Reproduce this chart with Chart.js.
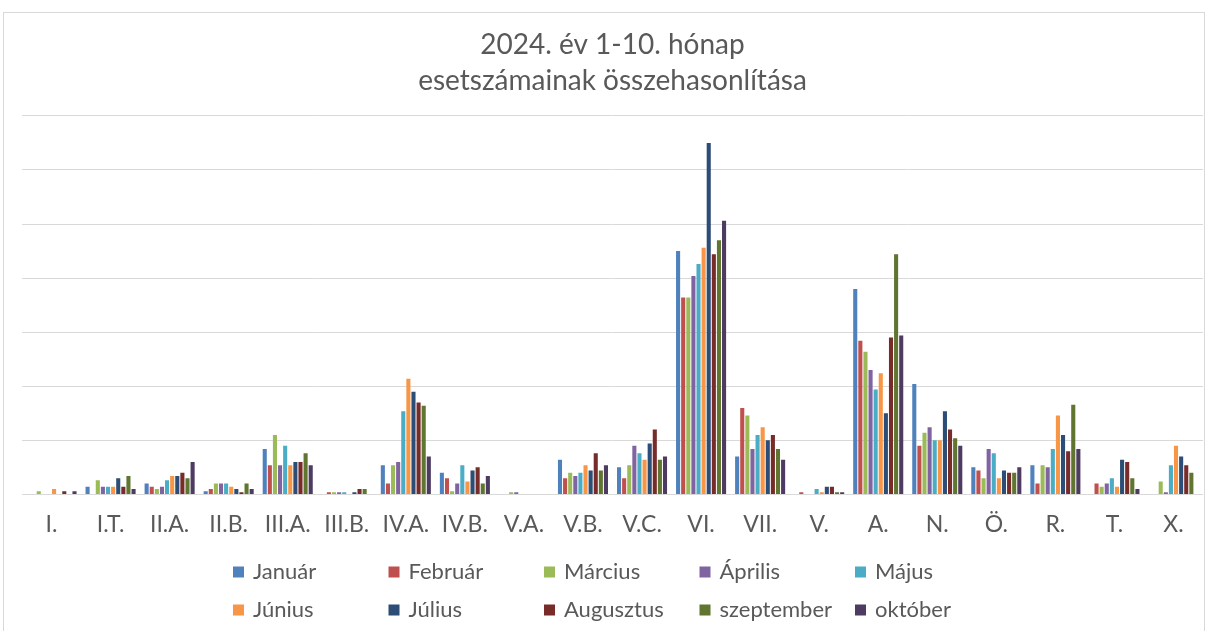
<!DOCTYPE html>
<html>
<head>
<meta charset="utf-8">
<script src="https://cdn.jsdelivr.net/npm/chart.js@4"></script>
<style>
  html, body { margin: 0; padding: 0; background: #fff; }
  #frame {
    position: absolute; left: 3px; top: 12px; width: 1202px; height: 640px;
    border: 1px solid #d9d9d9; box-sizing: border-box;
  }
  #wrap { position: absolute; left: 0; top: 0; width: 1207px; height: 631px; }
</style>
</head>
<body>
<div id="frame"></div>
<div id="wrap"><canvas id="chart" width="1207" height="631"></canvas></div>
<script>
// categories (x axis)
const categories = ['I.', 'I.T.', 'II.A.', 'II.B.', 'III.A.', 'III.B.', 'IV.A.', 'IV.B.', 'V.A.', 'V.B.',
                    'V.C.', 'VI.', 'VII.', 'V.', 'A.', 'N.', 'Ö.', 'R.', 'T.', 'X.'];

// monthly case counts
const januar     = [0, 7, 10, 3, 42, 0, 27, 20, 0, 32, 25, 225, 35, 0, 190, 102, 25, 27, 0, 0];
const februar    = [0, 0, 7, 5, 27, 2, 10, 15, 0, 15, 15, 182, 80, 2, 142, 45, 22, 10, 10, 0];
const marcius    = [3, 13, 5, 10, 55, 2, 27, 3, 2, 20, 27, 182, 73, 0, 132, 57, 15, 27, 7, 12];
const aprilis    = [0, 7, 7, 10, 27, 2, 30, 10, 2, 17, 45, 202, 42, 0, 115, 62, 42, 25, 10, 2];
const majus      = [0, 7, 13, 10, 45, 2, 77, 27, 0, 20, 38, 213, 55, 5, 97, 50, 38, 42, 15, 27];
const junius     = [5, 7, 17, 7, 27, 0, 107, 12, 0, 27, 32, 228, 62, 2, 112, 50, 15, 73, 7, 45];
const julius     = [0, 15, 17, 5, 30, 2, 95, 22, 0, 22, 47, 325, 50, 7, 75, 77, 22, 55, 32, 35];
const augusztus  = [3, 7, 20, 2, 30, 5, 85, 25, 0, 38, 60, 222, 55, 7, 145, 60, 20, 40, 30, 27];
const szeptember = [0, 17, 15, 10, 38, 5, 82, 10, 0, 22, 32, 235, 42, 2, 222, 52, 20, 83, 15, 20];
const oktober    = [3, 5, 30, 5, 27, 0, 35, 17, 0, 27, 35, 253, 32, 2, 147, 45, 25, 42, 5, 0];

const seriesLabels = ['Január', 'Február', 'Március', 'Április', 'Május',
                      'Június', 'Július', 'Augusztus', 'szeptember', 'október'];
const seriesData = [januar, februar, marcius, aprilis, majus, junius, julius, augusztus, szeptember, oktober];
const seriesColors = ['#4F81BD', '#C0504D', '#9BBB59', '#8064A2', '#4BACC6',
                      '#F79646', '#2C4D75', '#772C2A', '#5F7530', '#4D3B62'];

const FONT = 'Lato, "Open Sans", sans-serif';
const GREY = '#595959';

// legend drawn as a 5 column grid, like the Excel one
const gridLegend = {
  id: 'gridLegend',
  afterDraw(chart) {
    const ctx = chart.ctx;
    const cols = 5, colW = 155.5, x0 = 233, rowY = [572, 610], box = 11;
    ctx.save();
    ctx.font = '22px ' + FONT;
    ctx.textBaseline = 'middle';
    chart.data.datasets.forEach((ds, i) => {
      const x = x0 + (i % cols) * colW;
      const y = rowY[Math.floor(i / cols)];
      ctx.fillStyle = ds.backgroundColor;
      ctx.fillRect(x, y - box / 2, box, box);
      ctx.fillStyle = GREY;
      ctx.fillText(ds.label, x + box + 9, y);
    });
    ctx.restore();
  }
};

new Chart(document.getElementById('chart'), {
  type: 'bar',
  data: {
    labels: categories,
    datasets: seriesLabels.map((label, i) => ({
      label: label,
      data: seriesData[i],
      backgroundColor: seriesColors[i],
      borderWidth: 0,
      categoryPercentage: 0.865,
      barPercentage: 0.8,
    })),
  },
  options: {
    responsive: false,
    animation: false,
    layout: { padding: { left: 22, right: 4, top: 26, bottom: 85 } },
    plugins: {
      legend: { display: false },
      tooltip: { enabled: false },
      title: {
        display: true,
        text: ['2024. év 1-10. hónap', 'esetszámainak összehasonlítása'],
        color: GREY,
        font: { family: FONT, size: 28, weight: 'normal', lineHeight: 1.32 },
        padding: { top: 0, bottom: 16 },
      },
    },
    scales: {
      x: {
        grid: { display: false },
        border: { display: false },
        ticks: { color: GREY, font: { family: FONT, size: 23 }, padding: 8, maxRotation: 0 },
      },
      y: {
        min: 0, max: 350,
        ticks: { display: false, stepSize: 50 },
        border: { display: false },
        grid: { color: '#d9d9d9', lineWidth: 1, drawTicks: false },
      },
    },
  },
  plugins: [gridLegend],
});
</script>
</body>
</html>
